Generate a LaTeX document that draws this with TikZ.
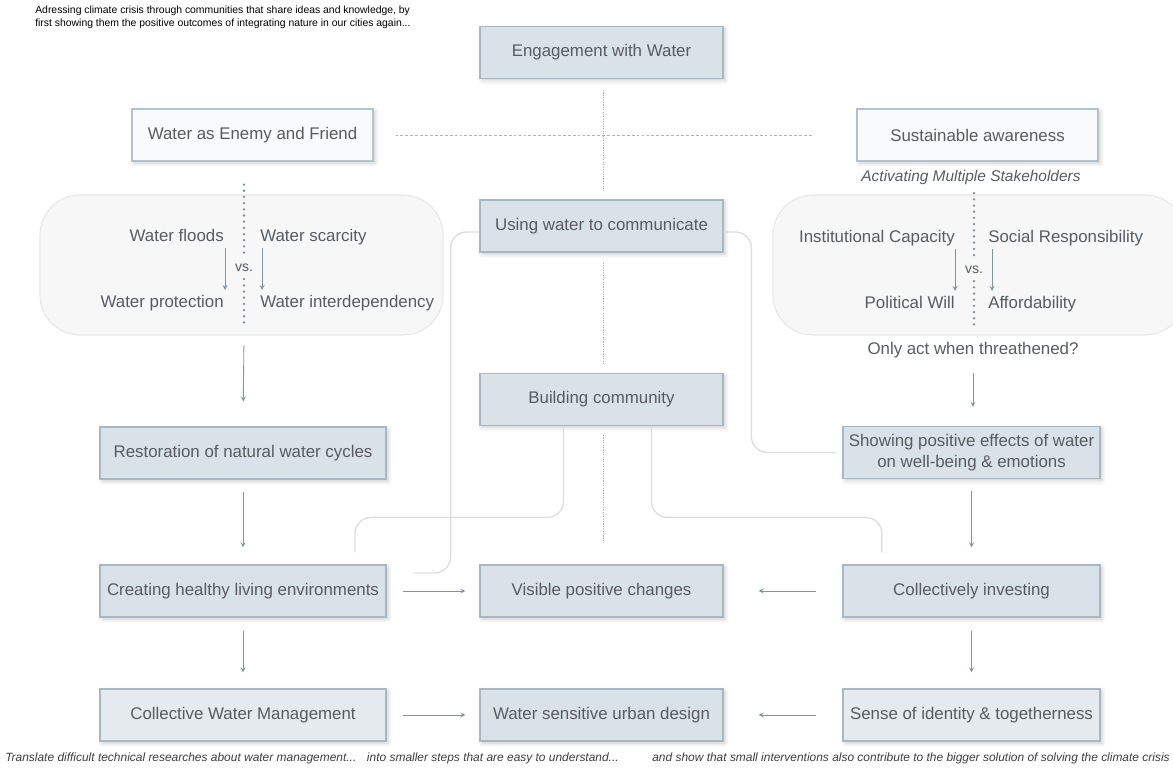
\documentclass[tikz,border=0pt]{standalone}
\usepackage{fontspec}
\setmainfont{Liberation Sans}
\usepackage{tikz}
\usetikzlibrary{shapes,arrows,positioning,calc,shadows.blur}
\definecolor{boxblue}{RGB}{217,226,233}
\definecolor{boxpale}{RGB}{229,234,238}
\definecolor{boxedge}{RGB}{168,183,193}
\definecolor{boxwhite}{RGB}{248,250,251}
\definecolor{openedge}{RGB}{178,194,202}
\definecolor{textgray}{RGB}{88,92,96}
\definecolor{notegray}{RGB}{60,62,64}
\definecolor{regionfill}{RGB}{247,247,247}
\definecolor{regionedge}{RGB}{232,232,232}
\definecolor{arrowgray}{RGB}{130,148,158}
\definecolor{linkgray}{RGB}{222,222,222}
\definecolor{dotgray}{RGB}{175,175,175}
\definecolor{dashblue}{RGB}{160,182,192}
\definecolor{pearlblue}{RGB}{122,138,150}

\begin{document}
\begin{tikzpicture}[
    x=0.25mm, y=-0.25mm,
    font=\fontsize{12}{14}\selectfont,
    text=textgray,
    mainbox/.style={rectangle, draw=boxedge, fill=boxblue, line width=0.8pt, minimum width=60.75mm, minimum height=13mm,
        blur shadow={shadow xshift=1.5pt, shadow yshift=-1.5pt, shadow blur radius=3pt, shadow opacity=20}},
    sidebox/.style={mainbox, minimum width=71.5mm},
    rightbox/.style={mainbox, minimum width=64.25mm},
    openbox/.style={mainbox, fill=boxwhite, draw=openedge, minimum width=60.25mm},
    region/.style={rectangle, rounded corners=10mm, draw=regionedge, fill=regionfill, line width=0.8pt},
    arrow/.style={->, >=stealth, draw=arrowgray, line width=0.6pt},
    link/.style={draw=linkgray, line width=1pt, rounded corners=4mm},
    dotline/.style={draw=dotgray, line width=0.6pt, dash pattern=on 0.8pt off 0.9pt},
    dashline/.style={draw=dashblue, line width=0.6pt, dash pattern=on 2pt off 1.5pt},
    pearls/.style={draw=pearlblue, line width=1.8pt, line cap=round, dash pattern=on 0pt off 4.4pt},
    vslabel/.style={font=\fontsize{10}{12}\selectfont, inner xsep=1pt, inner ysep=5pt},
    note/.style={font=\fontsize{8.5}{10}\selectfont\itshape, text=notegray, inner sep=0pt}
]
    \useasboundingbox (0,0) rectangle (1173,773);

    % Intro
    \node[anchor=north west, align=left, inner sep=0pt, text=black, font=\fontsize{7.4}{9.3}\selectfont] (intro) at (35,6)
        {Adressing climate crisis through communities that share ideas and knowledge, by\\
         first showing them the positive outcomes of integrating nature in our cities again...};

    % Regions
    \node[region, minimum width=100.75mm, minimum height=35mm] (floodregion) at (241.5,265) {};
    \node[region, minimum width=103mm, minimum height=35mm] (stakeregion) at (979,265) {};

    % Top row
    \node[mainbox] (engage) at (601.5,52.5) {Engagement with Water};
    \node[openbox] (enemy) at (252.5,135) {Water as Enemy and Friend};
    \node[openbox] (aware) at (977.5,135) {Sustainable awareness};
    \draw[dashline, shorten <=5.5mm, shorten >=10.75mm] (enemy) -- (aware);

    % Water as enemy and friend
    \node[anchor=base east, inner sep=0pt] (floods) at (224,242) {Water floods};
    \node[anchor=base west, inner sep=0pt] (scarcity) at (260,242) {Water scarcity};
    \node[anchor=base east, inner sep=0pt] (protect) at (224,308) {Water protection};
    \node[anchor=base west, inner sep=0pt] (interdep) at (260,308) {Water interdependency};
    \node[vslabel] (vsleft) at (244,268) {vs.};
    \draw[pearls] ($(vsleft |- enemy.south)+(0,23)$) -- (vsleft.north);
    \draw[pearls] (vsleft.south) -- ($(vsleft |- floodregion.south)+(0,-8)$);
    \draw[arrow] ([xshift=0.25mm,yshift=-1.5mm]floods.base east) -- ([xshift=0.25mm,yshift=4.5mm]protect.base east);
    \draw[arrow] ([xshift=0.5mm,yshift=-1.5mm]scarcity.base west) -- ([xshift=0.5mm,yshift=4.5mm]interdep.base west);

    % Stakeholders
    \node[font=\fontsize{11}{13}\selectfont\itshape] (activ) at (971,178) {Activating Multiple Stakeholders};
    \node[anchor=base east, inner sep=0pt] (capacity) at (955,243) {Institutional Capacity};
    \node[anchor=base west, inner sep=0pt] (responsib) at (988,243) {Social Responsibility};
    \node[anchor=base east, inner sep=0pt] (polwill) at (955,309) {Political Will};
    \node[anchor=base west, inner sep=0pt] (afford) at (988,309) {Affordability};
    \node[vslabel] (vsright) at (974,270) {vs.};
    \draw[pearls] ($(vsright |- activ.south)+(0,3)$) -- (vsright.north);
    \draw[pearls] (vsright.south) -- ($(vsright |- stakeregion.south)+(0,-8)$);
    \draw[arrow] ([yshift=-1.5mm]capacity.base east) -- ([yshift=4.5mm]polwill.base east);
    \draw[arrow] ([xshift=1mm,yshift=-1.5mm]responsib.base west) -- ([xshift=1mm,yshift=4.5mm]afford.base west);
    \node (threat) at (973,350) {Only act when threathened?};

    % Center column
    \node[mainbox] (usewater) at (601.5,226) {Using water to communicate};
    \node[mainbox] (building) at (601.5,399.5) {Building community};
    \node[mainbox] (visible) at (601.5,591) {Visible positive changes};
    \node[mainbox] (wsud) at (601.5,715) {Water sensitive urban design};
    \draw[dotline, shorten <=2.75mm, shorten >=2mm] ([xshift=0.5mm]engage.south) -- ([xshift=0.5mm]usewater.north);
    \draw[dotline, shorten <=2.5mm, shorten >=2mm] ([xshift=0.5mm]usewater.south) -- ([xshift=0.5mm]building.north);
    \draw[dotline, shorten <=2.25mm, shorten >=5.5mm] ([xshift=0.5mm]building.south) -- ([xshift=0.5mm]visible.north);

    % Left column
    \node[sidebox] (restore) at (243,453) {Restoration of natural water cycles};
    \node[sidebox] (create) at (243,591) {Creating healthy living environments};
    \node[sidebox, fill=boxpale] (manage) at (243,715) {Collective Water Management};
    \draw[arrow, shorten <=2.5mm, shorten >=6.25mm] (vsleft |- floodregion.south) -- (restore.north);
    \draw[arrow, shorten <=3mm, shorten >=4.25mm] (restore) -- (create);
    \draw[arrow, shorten <=3.25mm, shorten >=4mm] (create) -- (manage);

    % Right column
    \node[rightbox, align=center] (showpos) at (971.5,452.5) {Showing positive effects of water\\[1pt]on well-being \& emotions};
    \node[rightbox] (collect) at (971.5,591) {Collectively investing};
    \node[rightbox, fill=boxpale] (identity) at (971.5,715) {Sense of identity \& togetherness};
    \draw[arrow, shorten <=2.5mm, shorten >=4.75mm] (threat) -- (threat |- showpos.north);
    \draw[arrow, shorten <=3mm, shorten >=4.25mm] (showpos) -- (collect);
    \draw[arrow, shorten <=3.25mm, shorten >=4mm] (collect) -- (identity);

    % Rows into the middle
    \draw[arrow, shorten <=4mm, shorten >=3.5mm] (create) -- (visible);
    \draw[arrow, shorten <=6.5mm, shorten >=8.75mm] (collect) -- (visible);
    \draw[arrow, shorten <=4mm, shorten >=3.5mm] (manage) -- (wsud);
    \draw[arrow, shorten <=6.5mm, shorten >=8.75mm] (identity) -- (wsud);

    % Links
    \draw[link] ([yshift=-1.5mm]usewater.west) -| ([xshift=16mm,yshift=4.5mm]create.east) -- ([xshift=6.75mm,yshift=4.5mm]create.east);
    \draw[link] ([yshift=-1.5mm]usewater.east) -| ([xshift=-22.75mm]showpos.west) -- ([xshift=-1.5mm]showpos.west);
    \draw[link] ([xshift=-9.5mm]building.south) |- ([xshift=28mm,yshift=11.75mm]create.north) -- ([xshift=28mm,yshift=3mm]create.north);
    \draw[link] ([xshift=12.5mm]building.south) |- ([xshift=-22.4mm,yshift=11.75mm]collect.north) -- ([xshift=-22.4mm,yshift=3mm]collect.north);

    % Footer
    \node[note, anchor=west] (trans1) at (5,758) {Translate difficult technical researches about water management...};
    \node[note, right=2.5mm of trans1] (trans2) {into smaller steps that are easy to understand...};
    \node[note, anchor=east] (trans3) at (1170,758) {and show that small interventions also contribute to the bigger solution of solving the climate crisis};
\end{tikzpicture}
\end{document}
